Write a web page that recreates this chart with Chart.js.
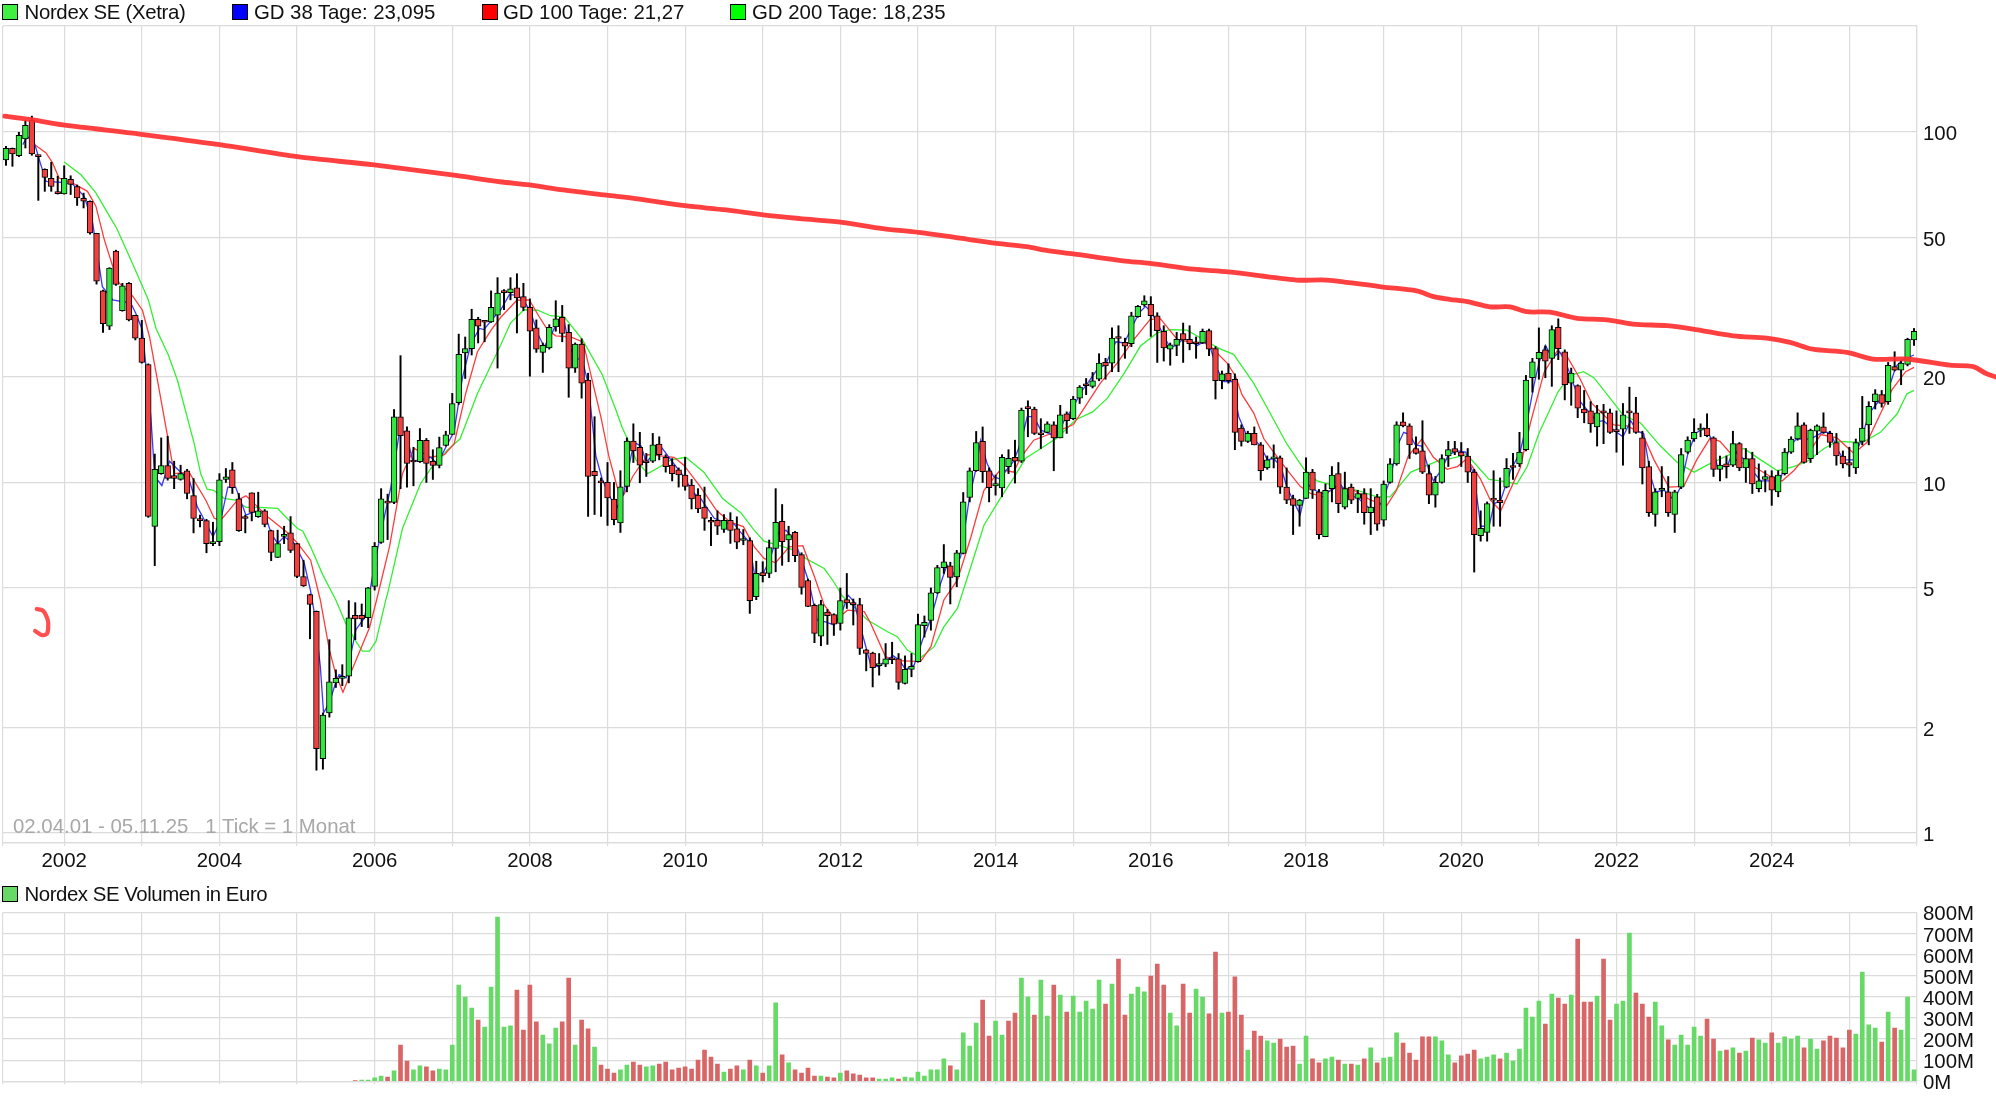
<!DOCTYPE html>
<html><head><meta charset="utf-8">
<script src="https://cdn.jsdelivr.net/npm/chart.js@4"></script>
<style>
html,body{margin:0;padding:0;background:#fff;width:1996px;height:1102px;overflow:hidden}
canvas{position:absolute;left:0}
.t{position:absolute;font:20.4px "Liberation Sans",Arial,sans-serif;color:#111;white-space:pre;line-height:24px}
.s{position:absolute;width:14px;height:14px;border:1px solid #000;box-sizing:content-box}
</style></head><body>
<canvas id="main" width="1996" height="880" style="top:0"></canvas>
<canvas id="draw" width="1996" height="880" style="top:0"></canvas>
<canvas id="vol" width="1996" height="222" style="top:880px"></canvas>
<div class="s" style="left:2px;top:3.5px;background:#40f040"></div><div class="t" style="left:24.5px;top:0;letter-spacing:-.33px">Nordex SE (Xetra)</div>
<div class="s" style="left:232px;top:3.5px;background:#0000ff"></div><div class="t" style="left:254px;top:0;letter-spacing:-.05px">GD 38 Tage: 23,095</div>
<div class="s" style="left:481.5px;top:3.5px;background:#ff0000"></div><div class="t" style="left:503px;top:0;letter-spacing:-.05px">GD 100 Tage: 21,27</div>
<div class="s" style="left:729.5px;top:3.5px;background:#00ff00"></div><div class="t" style="left:752px;top:0">GD 200 Tage: 18,235</div>
<div class="s" style="left:2px;top:885.5px;background:#66d966"></div><div class="t" style="left:24.5px;top:881.5px;letter-spacing:-.45px">Nordex SE Volumen in Euro</div>
<div class="t" style="left:13px;top:814px;color:#a8a8a8">02.04.01 - 05.11.25   1 Tick = 1 Monat</div>
<script>
// Monthly candles, April 2001 = month 0
const open=[83.2,89.8,85.6,95.5,108,85.2,78.2,73.8,66.9,66.6,
73.3,69.9,64.7,63.4,51.4,35.2,27.9,45.7,30.9,37,
30,25.8,21.7,7.49,10.6,11.18,10.47,10.2,10.8,9.18,
7.8,7.79,6.69,6.78,10.2,10.86,8.98,7.99,9.34,7.99,
8.3,7.29,6.11,7.01,7.18,6.69,5.39,4.79,4.29,1.63,
2.2,2.68,2.76,2.8,4.18,4.18,4.11,5.05,6.74,8.77,
8.77,15.4,14.04,11.48,11.46,13.18,11.48,11.18,12.75,13.7,
16.9,23.4,24.1,29.2,28.75,28.7,30,35.1,34.8,35.9,
33.9,31.6,27.6,23.5,24.2,27.8,29.6,26.8,21.2,24.8,
19.6,10.76,10.03,10,8.97,7.66,9.75,13.13,12.6,11.42,
11.5,12.86,11.8,11.2,10.86,10.5,9.83,9.2,8.5,7.8,
7.8,7.34,7.8,7.37,6.83,6.83,4.72,5.53,5.5,6.48,
7.74,6.85,7.2,6.23,5.25,4.46,3.64,4.27,4.2,3.96,
4.63,4.5,4.48,3.33,3.26,3,3.03,3.14,3.14,2.67,
2.93,3.08,3.9,4.04,4.84,5.71,5.78,5.38,6.27,9.06,
10.8,13.1,10.8,9.78,9.65,11.1,11.8,11.5,16.3,16.2,
13.72,13.9,14.6,13.4,15.7,15.2,17.4,18.92,18.8,19.7,
22,21.9,25.85,25.1,24.9,29.7,32.1,32.2,29.9,27,
24,24.6,26.6,25.6,24.92,25,27.1,24.1,19.5,20.5,
19.7,14.3,13.1,13.8,12.8,11,11.68,11.75,9.7,9,
8.6,9,10.7,9.4,7,9.6,10.6,8.5,9.7,9,
9.3,8.2,9.1,7.8,10,11.3,14.9,14.5,12.5,12.3,
10.6,9.2,10,11.9,12.5,12.2,11.9,10.7,7.05,7.2,
9,8.9,9.7,11.07,11.3,12.4,19.9,22.5,23.9,22.6,
27.7,23.6,19.2,18.9,16.2,16,14.4,16,15.8,14.03,
14.2,16,15.8,13.4,11.1,8.1,9.5,9.4,8.1,9.7,
12.2,13.3,14.1,14.3,13.4,10.9,11.3,11.2,12.9,11,
11.7,9.6,10.2,10.4,9.4,10.6,12.2,13.3,14.6,11.7,
14,14.4,13.8,13,11.9,11.4,11,13.1,14.6,17,
17.8,17,21.4,20.9,21.7,25.5];
const high=[91,90,99.8,108,111,85.8,78.5,81.9,74.8,80.1,
75,70.6,66.9,63.6,51.4,35.4,41,46,37,37.2,
30,29,21.8,12.05,13.4,13.55,11.5,11.2,10.9,10.26,
8.07,7.85,7.7,10.6,10.96,11.4,9.3,8.07,9.34,9.38,
8.37,7.31,7.31,7.5,7.99,6.7,6,4.8,4.3,2.2,
3.56,2.92,3.02,4.6,4.54,4.5,5.02,6.74,9.6,9.26,
16.15,23,14.4,12.6,14.25,13.35,12.4,13.47,14,17.95,
26.5,26,31.2,29.6,28.8,35.2,38.4,35.5,38.4,39.4,
37,33.4,29.1,25,28.2,33,32,28.2,25,25.7,
20.5,15.4,10.3,11.4,10,10.8,13.4,14.7,13.9,12.1,
13.8,13.5,12,11.7,11,11.8,10.2,9.6,9.7,7.95,
8.3,8.1,8.2,7.98,7.34,6.95,5.96,5.94,6.85,9.6,
8.65,7.5,7.25,6.3,5.3,4.5,4.61,4.34,4.22,5,
5.5,4.65,4.67,3.34,3.28,3.25,3.47,3.5,3.25,3.2,
3.25,4.21,4.16,5,5.8,6.65,5.92,6.4,9.36,11,
13.98,14.4,11,10.5,12,12.4,13.2,16.3,17.1,16.4,
15.2,14.9,14.9,16.6,15.9,17.6,18.9,19.8,20.6,23.3,
22.6,27.6,28,25.8,30.6,32,34.1,33.9,30.5,28,
25,26.8,28.5,28,26,27.4,27.4,24.4,20.8,21.8,
20.4,14.6,14,14.4,13,11.9,12.8,11.9,11,9.2,
8.95,11.76,10.9,9.55,9.9,11.1,11.4,10.7,9.9,9.5,
9.6,9.6,9.25,10.1,11.7,14.9,15.8,14.7,13.5,15,
11.2,10.4,12,13.1,13.1,13,12.5,10.9,8.3,8.8,
10.8,10.3,11.7,12.1,13.9,20.2,22.6,27.6,24.5,28,
29.3,23.9,21.2,19,18.3,17,16.6,16.7,16.2,16,
16.8,18.7,17.5,14,11.5,9.6,11.1,10.4,9.5,12.5,
13.5,15.2,14.7,15.7,13.5,11.9,11.9,14,13,12.5,
12.2,11.3,10.8,10.8,10.8,12.5,13.5,15.8,14.8,14.2,
14.6,15.8,14,13.8,12.3,12.6,13.3,17.6,17,18.4,
18.3,22,23.6,22.3,25.8,27.5];
const low=[80.3,79.8,85,90,85.8,63.8,67.7,67.7,66.5,66.5,
66.3,61.7,60.7,51.1,36.8,26.8,27.3,36.5,30.8,28.9,
25.5,21.9,7.95,5.79,10.55,10.15,9.6,10.15,8.98,7.18,
7.47,6.3,6.6,6.6,10,9.3,7.25,7.18,7.77,7.95,
7.47,5.98,6.1,6.69,6.31,5.35,5.05,3.58,1.51,1.52,
2.14,2.6,2.63,2.68,3.56,3.88,3.85,4.93,6.7,6.87,
8.7,9.6,9.7,9.78,11.4,10,10.2,11,12.7,13.7,
16.7,19.8,23.1,25,25.2,28.6,21.2,31.1,33.2,26.7,
30.9,20.1,23.5,20.6,24,27,25.2,17.5,20.6,17.4,
8,8.1,8,7.54,7.57,7.2,9.4,11.4,9.98,10.4,
11.4,11.6,10.7,10.1,9.7,9.5,8.4,8.2,7.3,6.6,
7.1,7.2,6.7,6.47,6.64,4.23,4.63,5.2,5.35,5.56,
5.8,5.94,5.94,4.8,4.42,3.49,3.42,3.45,3.66,3.79,
4.37,3.92,3.23,2.9,2.61,2.82,2.98,3.04,2.57,2.66,
2.79,3.07,3.62,3.79,4.82,5.5,4.5,5.04,6.25,8.8,
10.75,10,8.8,9.2,9.1,10.6,9.96,11.4,13.5,13.7,
12.5,13.85,10.8,13.4,13.8,15.1,16.8,17.8,18.6,19.5,
19.7,20.7,20.7,22.6,24.4,29.6,31.8,26.1,22,22.2,
21.6,23,22,23.9,22.6,24.9,23,17.3,18.5,19.2,
12.4,12.7,13,12.8,10.15,10.9,11,9.3,8.7,7.1,
7.5,9,9,6.9,7,8.8,8.2,8.4,8.7,8.2,
7.6,7.1,7.3,7.5,9.95,11.2,14.4,11.7,12.05,10.6,
8.7,8.5,9.95,11.1,12,11.1,10,5.55,6.8,6.8,
7.5,7.5,9.65,10.2,11.1,12.3,18.1,19.7,19.9,18.8,
22.4,17.2,16.6,15.3,14.8,13.9,12.7,12.9,13.8,12.2,
11.2,13.8,13.8,9.9,8,7.5,9.1,8,7.2,9.6,
12.1,13.1,13.5,13.5,10.4,10.1,10.3,11.1,10.8,10,
9.3,9.4,9.4,8.6,9.1,10.5,12.1,13.2,11.35,11.4,
12,13.8,12.6,11.2,11,10.4,10.6,12.8,12.8,16.2,
16.4,16.7,20.8,19,21.5,24.6];
const close=[89.8,86.5,97.8,104.5,86.5,85,74.2,69.9,66.7,73.8,
70.9,64.8,63.5,51.5,37.5,28.4,40.9,36.7,36.4,29.1,
25.8,22,8,10.9,11.18,10.26,10.26,10.6,9.3,7.89,
7.78,6.69,6.78,10.18,10.38,9.67,7.29,7.89,8.21,8.3,
7.59,6.31,6.69,7.11,6.4,5.39,5.07,4.49,1.74,2.17,
2.7,2.76,2.8,4.11,4.08,4.08,5,6.57,8.98,8.73,
15.4,13.6,11.33,11.44,13.18,11.33,11.18,12.58,13.67,16.8,
23.2,24.1,29.2,27.9,28.65,31.6,34.7,34.8,35.7,33.6,
31.6,27,24,24.6,27.7,29.3,26.6,21.2,24.8,19.2,
10.4,10.46,9.97,9.03,7.83,9.71,13.13,12.3,11.2,11.38,
12.8,12,11.1,10.6,10.5,9.74,8.97,8.4,7.9,7.7,
7.5,7.8,7.3,6.76,6.92,4.6,5.5,5.42,6.52,7.69,
6.78,7.1,6.18,5.02,4.43,3.71,4.48,4.17,3.94,4.6,
4.53,4.48,3.36,3.25,2.96,3.04,3.14,3.12,2.69,2.93,
2.99,3.93,3.99,4.84,5.72,5.94,5.36,6.3,8.8,10.8,
13,10.74,9.66,9.93,11.8,11.72,11.5,16.1,16.25,13.8,
13.68,14.7,13.4,15.6,15,17.3,18.7,18.88,19.5,21.9,
21.5,25.8,25.75,24.5,29.9,31.8,33,29.9,27.1,24.2,
24.7,25.6,25.5,24.9,24.88,27,24,19.5,20.4,19.5,
13.9,13.1,13.8,12.8,10.8,11.6,11.72,9.7,8.9,8.6,
8.9,10.7,9.5,7.1,9.5,10.5,8.7,9.6,8.9,9.3,
8.2,8.5,7.6,9.9,11.3,14.6,14.5,12.8,12.1,10.7,
9.2,10,11.7,12.4,12.2,11.9,10.7,7.1,7.4,8.7,
8.9,8.75,10.98,11.03,12.2,19.6,22.1,23.5,22.2,27.3,
24.1,19,20.5,16.3,15.8,14.7,15.8,15.8,13.9,13.97,
15.6,15.8,13.9,11,8.2,9.4,9.6,8.2,9.4,12,
13.2,13.9,14.3,13.6,10.9,11.2,11.1,12.9,11,11.7,
9.9,10.1,10.4,9.5,10.5,12.2,13.3,14.5,11.4,14.1,
14.5,13.9,13,11.9,11.3,11.2,13,14.3,16.5,17.9,
16.8,21.6,20.9,21.9,25.6,27];

// Moving averages: month index and value in euro
const gd38Month=[2.6,3.3,4.4,5.3,6.2,8.5,10.3,12.1,13.4,14.9,16.5,19.3,20.1,21.1,22.4,23,24.1,25.3,27,28.3,29.6,30.7,32,33.2,34.3,35.5,37.1,38.4,40,41,42,43,44.6,46.1,47.1,47.6,48.6,49.1,50,50.8,51.5,52.6,54.1,55.4,56.2,57.2,58.5,59.5,60.8,61.8,62.9,64.1,65.7,66.7,68,69.3,70.6,71.9,73.2,73.9,75.5,76.5,77.8,79,80.1,81.1,82.2,83.2,84.2,85.3,86.3,87.1,88.1,89.1,90,91.2,92.2,93.5,94.5,95.5,96.6,97.1,98.2,99,100,101.2,102.8,104.1,105.1,106.1,107.4,108.5,109.5,111,112.6,113.6,114.9,115.7,116,117.2,118.2,119.3,120.6,121.9,122.9,124.2,125.4,126.7,128,129,130.2,131.1,132.4,133.7,135,136,137.2,138.1,139.1,140.4,141.7,143,144.5,145.5,146.3,147.6,148.9,149.9,150.7,151.7,152.7,153.8,154.6,155.8,156.9,157.9,158.9,160,161.3,162.3,163.6,165.1,166.1,167.4,168.7,170,171.6,172.9,173.9,175.2,176.2,177,178,179,180,181.1,182.1,183.2,184.2,185.2,186.2,187.3,188.3,189.6,190.6,191.7,192.9,194,195,196,197.1,198,199.1,200.1,201.2,202.4,203.5,205,206.3,207.6,208.9,210.2,211.5,212.8,214,215.1,216.1,217,217.9,218.9,219.9,220.7,222,223,224.4,225.7,227,228,229.3,230.1,231.1,232.6,234.1,235.2,236.2,237,238,239.1,240.2,241.2,242.3,243.4,244.7,246,247,248.8,250,251.2,252.2,253.2,254.3,255,256.4,257.9,258.9,260,261.2,262.5,263.5,264.6,266.1,267.1,268.2,269.2,270.2,271.3,272.8,274.3,275.8,276.8,279,280.8,282.1,283.1,284.1,285.7,287,288,289.6,290.9,292.2,293.2,295];
const gd38Value=[92,97,93,81.6,72.3,71.8,71,65.5,55,36.2,33.2,32.5,30.3,27.2,15.4,10.4,9.8,11.5,10.7,10.2,8.5,7.8,7,7.8,9.7,9.7,8.07,8.25,8.15,7.15,6.7,7,6.7,5.9,4.9,4.33,2.99,2.2,2.35,2.62,2.83,2.77,3.8,4.1,4.82,6.13,7.98,9.7,13.8,14,11.5,11.6,11.8,11.3,12.6,14,20,24.9,27.5,27.3,29.7,31.1,34.3,34.3,32.9,30.8,26.6,24.4,26.1,28.9,28.9,24.4,22.6,22.4,19.2,11.9,10.2,9,8.5,9.3,11.8,13,12.7,11.4,12,12.7,11.6,10.8,10.2,9.4,9,8.4,7.9,7.7,7.6,7.2,6.76,5.5,5.4,5.56,6.1,7.15,7.3,6.85,6.1,5.15,4.05,4,3.92,4.14,4.77,4.57,3.7,3.01,2.98,3.11,3.2,3.11,2.93,3.01,3.55,4.09,5.15,5.81,5.38,6.14,8.9,10.8,13.2,11.3,10.4,10.2,10.8,11.5,13,15.4,15.4,14.1,13.8,13.4,15,16.5,18,19.4,21,21.7,25.2,25,27.3,30.5,31.8,30.7,28.5,26.3,24.2,24.7,25.8,25.2,24.6,25.2,24.2,21,19.4,19.4,15.4,13.8,13.3,12.7,11.6,11.7,11.1,9.75,8.8,8.1,9.9,9.5,9.3,9.5,9.9,9.1,9.1,8.6,8.3,8.8,10.2,12.7,13.9,13.7,12.8,12.7,11,10.1,10.9,12,12.3,12.2,10.4,7.5,7.5,8.7,8.9,10.8,12.2,15,18.8,21.9,24.6,22.6,23.6,21.9,19.2,17,15.9,14.9,15,14,13.5,15,14,13.8,10.4,9.4,9.5,8.9,9.7,12,13.8,14.3,13.5,11.1,11.1,12.4,11.8,11.6,10.7,10.1,10.1,10.1,12.7,13.3,13.3,13.9,13.9,12.5,11.6,11.6,13.5,15.7,17.1,18.1,21.4,22.4,23.1];
const gd100Month=[4.5,6.2,7.2,8.2,10.3,12.6,13.9,15.2,16.5,17.5,19.6,21.1,22.2,23.5,25,26,28.3,30.9,32.2,33.2,35.8,37.1,38.4,40.4,43.5,45.1,47.1,48.6,50,51,52.1,53.3,56.2,57.3,59.3,61.3,63.1,65.7,67.8,69.3,71.1,72.9,75,76.5,79,80.9,82.4,83.7,85,87.3,89.1,89.4,92,93.2,94.5,95.5,96.9,99.2,101.2,103.3,104.8,107.4,109.9,112,114,115.7,117.2,119,121.1,123.2,125,126.5,128.3,130.1,132.7,133.7,136,138.1,141.4,143,145,147.1,149.2,151.2,153.8,155.8,156.9,158.9,162.5,165,166.9,169.2,171.8,174.4,176.9,178.5,179.5,181.1,183.7,185.7,188.8,190.1,191.1,192.9,194.5,196,198,200.1,201.7,203.8,205.3,208.4,211,213.5,215,216.8,218.9,220.7,222.8,224.4,225.9,228,229.5,231.1,234.1,235.7,237.8,239.8,241.4,243.4,245.2,248.6,250.6,253,254.8,257.1,259.4,261.4,263.5,265,267.7,270.2,272.8,274.6,276.4,278.5,280.6,283.1,285.7,287.7,289.8,291.6,293.7,295];
const gd100Value=[91.8,87.1,81.6,73.9,71.5,67.7,61.4,49.3,41.4,37.1,34,31,26,19.2,13.5,10.6,10.7,8.9,7.9,7.8,8.9,9.16,8.7,8,7.2,6.7,6,4.62,3.33,2.83,2.52,2.86,3.85,4.62,6.56,10.6,12.5,11.8,12,12.9,18,23.6,27.2,29.6,33.1,33.2,29.8,27.3,26.2,26,25.2,24.4,15.3,11.9,9.7,9.2,10.4,12,11.9,11.8,11.2,9.7,8.3,7.7,7.48,6.55,6.07,5.9,6.55,6.6,5.38,4.47,4.05,4.32,4.28,3.96,3.18,3.1,3.08,3.4,4.62,5.26,7,9.5,10.9,10.7,11.8,13.2,14,14.6,16.5,19.2,21.9,25.6,29.2,29.3,27.8,25.6,25,25,21.9,20.1,17.8,15.8,13.3,12.2,10.9,9.75,9.3,9.1,9.75,9.5,8.9,8.6,9.5,11.9,13.3,11.8,10.9,11.1,11.7,10.2,8.9,8.3,11,14.8,20.6,23.7,22.8,19.7,16.8,14.6,14.5,13.8,11.6,9.7,9.75,11.6,13.4,13.1,11.5,11.1,10.4,10.1,10.8,12,13.7,13.4,12.1,13,15.7,18.4,20.7,21.3];
const gd200Month=[9,11.6,13.9,16,17.1,19.3,21.1,22,23.2,25.1,26.5,29.1,30.1,31.1,32.1,33.7,35.5,37.1,39.2,42,43.5,45.1,45.9,47.1,49,51,52.5,54.1,55.1,56.2,57.2,58.7,59,61.3,64.1,65.7,68.3,70.2,72.9,76.5,78,80.1,82.2,84.2,86.3,89.1,92.2,94.3,95.3,96.1,97.4,99.2,101.2,102.8,105.1,107.9,110.8,113.6,115.7,117.2,119.3,121.9,123.9,126.5,128,129.3,131.1,133.2,136.3,137.8,139.4,141.4,143.5,145,147.1,148.6,151.2,153.8,155.8,157.6,160,162.5,165.4,168,170.3,172.9,175.4,178,180,182.6,185.7,187.8,189.8,192.9,196,198,200.7,202.7,205.8,208.9,212,214,217.2,221.3,223.3,225.9,229.3,231.1,233.6,235.2,237,240,241.9,243.9,245.5,248,250.1,252.7,255.8,258.4,261,263,266,268.7,271.3,273.9,276.4,278.5,281.1,283.1,287,289.8,292.4,293.9,295];
const gd200Value=[82.1,75.5,67,57.5,53.2,43.2,36.3,33.2,27.5,23.1,19.6,12.9,10.6,9.57,9.5,9,8.9,8.49,8.49,8.43,7.89,7.39,7.26,6.55,5.44,4.62,3.97,3.52,3.3,3.3,3.52,4.6,4.82,7.39,9.93,10.96,12.4,13.3,17.95,24.7,28.5,31.1,31,29.9,29.7,25.6,20.3,16.1,14.3,13.3,11.6,10.6,11.1,11.6,11.8,10.7,9,8.2,7.3,6.8,6.63,6.41,6.03,5.68,5.2,4.74,4.42,4.05,3.75,3.63,3.32,3.16,3.4,3.87,4.37,5.32,7.55,9.05,10.3,11.7,12.5,13.4,15.1,15.9,17.4,20.5,24.5,26.7,27.3,27.2,25.2,24,23.2,19.2,15.1,12.9,10.9,10.1,9.75,9.5,9.1,9.1,10.7,11.5,11.7,12,10.2,10.1,9.9,11.1,13.8,18.2,20.2,20.7,19.9,17.4,15.5,14.8,12.7,11.4,10.7,11.2,11.9,12.5,11.6,10.8,11.1,11.5,12.5,13.1,13,13.9,15.7,17.9,18.3];

// Hand-drawn trend line and hook on the chart
const trendMonth=[0,4.33,9,21.07,33.2,45.2,57.1,69.1,76.5,81.1,86.3,93,98.1,105.1,111.5,117.2,122.9,129.1,135.7,141.2,146.6,153.3,157.9,161,165.1,172.8,177,183.7,189.1,199.6,204.3,213,218.2,220.8,223.3,226,229.5,232.6,235.2,238.8,243,247.6,251.6,256.9,260.9,267.1,272.3,275.9,279.4,284.7,288.7,294,300.6,304.2,306.3,307.7];
const trendValue=[110.9,108.2,104.7,98.5,92,85,80.5,75.4,72.1,70.6,68.3,66,64.3,61.6,59.9,58,56.6,55.3,53,51.7,50.1,48.1,47.1,45.9,44.9,42.9,42.2,40.6,39.9,37.8,37.8,36.1,35.2,33.9,33.3,32.8,31.7,31.7,30.7,30.6,29.4,29.1,28.3,28,27.4,26.2,25.8,25.1,24,23.5,22.5,22.5,21.6,21.4,20.4,20];
const hookMonth=[4.95,5.95,6.65,6.72,6.5,5.7,4.7];
const hookValue=[4.355,4.3,4.05,3.85,3.7,3.67,3.77];

// Volume in million euro, first bar at month 54; 1 = green, 0 = red
const volumeFirstMonth=54;
const volume=[2,6,6,16,25,20,49,172,96,54,73,68,49,58,54,172,456,399,347,290,257,446,777,257,262,432,243,456,281,219,177,252,281,489,172,290,248,162,77,58,39,54,77,91,77,68,73,82,91,54,63,68,58,101,
148,115,82,44,58,73,54,101,73,39,73,371,125,87,54,39,63,25,25,20,16,39,49,35,30,16,16,11,11,16,11,20,16,44,25,54,54,106,73,54,229,167,276,385,214,285,219,285,323,489,399,314,479,309,456,408,328,404,328,380,342,479,366,460,579,314,413,446,423,498,555,456,323,262,460,323,437,399,319,612,323,328,494,314,148,238,214,191,181,200,162,167,82,214,106,87,106,115,101,82,82,77,106,158,87,110,115,229,
181,134,101,210,210,210,191,125,87,120,129,148,106,115,125,106,134,96,153,347,304,380,271,413,394,366,408,673,375,375,404,579,290,366,380,702,418,366,304,375,262,196,172,219,172,257,214,295,200,143,148,158,134,143,205,196,181,229,181,210,200,214,158,200,153,191,214,205,158,243,224,517,267,252,186,328,252,243,399,54];
const volumeUp=[0,1,1,1,1,0,1,0,0,1,1,0,0,1,1,1,1,1,1,0,1,1,1,1,1,0,0,0,0,1,1,1,0,0,1,0,0,1,0,0,0,1,1,0,0,1,1,0,0,0,0,0,0,0,
0,0,0,1,0,0,1,0,1,0,1,1,0,1,0,0,0,0,1,0,0,1,0,0,0,0,0,1,1,1,0,1,1,1,1,1,1,1,0,1,1,1,1,0,0,1,1,0,0,1,1,0,1,1,0,1,0,1,1,1,1,1,0,1,0,0,1,1,1,0,0,0,1,1,0,0,1,1,0,0,1,0,0,0,1,0,0,1,1,0,0,0,1,1,0,0,1,1,0,1,0,1,0,1,0,1,1,1,
0,0,0,0,0,1,1,1,0,0,0,0,1,1,1,0,1,1,1,1,1,1,0,1,0,0,1,0,0,0,1,0,0,1,1,1,0,0,0,1,1,0,1,1,1,1,1,0,0,1,0,1,0,1,0,1,1,0,1,1,1,1,0,1,1,0,0,0,0,0,1,1,1,1,0,1,0,1,1,1];

// Axis labels
const priceTicks=[1,2,5,10,20,50,100];
const yearLabels=['2002','2004','2006','2008','2010','2012','2014','2016','2018','2020','2022','2024'];
const volumeTicks=[0,100,200,300,400,500,600,700,800];

const UP='#33e640',DOWN='#f04040',GRID='#dcdcdc',FONT={family:'"Liberation Sans"',size:20.4};
const XMIN=-0.46,XMAX=295.46,YMIN=0.936,YMAX=200.6;
const months=open.map((_,i)=>i);
const janMonths=[];for(let m=9;m<=295;m+=12)janMonths.push(m);
const yearOfMonth=m=>String(2001+Math.floor((m+3)/12));
const pairs=(a,b)=>a.map((x,i)=>({x,y:b[i]}));
const thin=(m,v,c)=>({type:'line',data:pairs(m,v),borderColor:c,borderWidth:1.3,pointRadius:0,tension:0,order:4});
const xOpts=labels=>({type:'linear',min:XMIN,max:XMAX,offset:false,
  afterBuildTicks(s){s.ticks=[XMIN,...janMonths,XMAX].map(value=>({value}));},
  afterFit(s){s.height=labels?37:20.7;},
  grid:{offset:false,color:GRID,lineWidth:1.2,tickLength:3,tickColor:GRID},border:{color:GRID,width:1.2},
  ticks:{autoSkip:false,maxRotation:0,minRotation:0,padding:3,color:'#111',font:FONT,
    callback:v=>{if(!labels||!janMonths.includes(v))return '';const y=yearOfMonth(v);return yearLabels.includes(y)?y:'';}}});

new Chart(document.getElementById('main'),{type:'bar',
  data:{datasets:[
    thin(gd38Month,gd38Value,'#3838ff'),
    thin(gd100Month,gd100Value,'#ff3c3c'),
    thin(gd200Month,gd200Value,'#33f033'),
    {data:months.map(i=>({x:i,y:[low[i],high[i]]})),backgroundColor:'#000',barThickness:1.3,order:3},
    {data:months.map(i=>({x:i,y:[open[i],close[i]]})),
     backgroundColor:months.map(i=>close[i]>=open[i]?UP:DOWN),borderColor:'#000',borderWidth:1,borderSkipped:false,barThickness:5.8,minBarLength:2,order:2}
  ]},
  options:{responsive:false,animation:false,devicePixelRatio:1,layout:{padding:{left:1.77,top:26,right:0,bottom:0}},
    datasets:{bar:{grouped:false}},
    plugins:{legend:{display:false},tooltip:{enabled:false}},
    scales:{x:xOpts(true),
      y:{type:'logarithmic',position:'right',min:YMIN,max:YMAX,bounds:'data',
        afterBuildTicks(s){s.ticks=[YMIN,...priceTicks,YMAX].map(value=>({value}));},
        afterFit(s){s.width=79;},
        grid:{color:GRID,lineWidth:1.2,drawTicks:false},border:{color:GRID,width:1.2},
        ticks:{autoSkip:false,padding:6,labelOffset:2.5,color:'#111',font:FONT,
          callback:v=>priceTicks.includes(v)?String(v):''}}}}});

new Chart(document.getElementById('draw'),{type:'line',
  data:{datasets:[
    {data:pairs(trendMonth,trendValue),borderColor:'rgba(255,48,48,0.92)',borderWidth:4.8,pointRadius:0,tension:0.3,borderJoinStyle:'round',borderCapStyle:'round'},
    {data:pairs(hookMonth,hookValue),borderColor:'rgba(255,60,60,0.9)',borderWidth:4.2,pointRadius:0,tension:0.3,borderCapStyle:'round'}
  ]},
  options:{responsive:false,animation:false,devicePixelRatio:1,layout:{padding:{left:1.77,top:26,right:0,bottom:37}},
    plugins:{legend:{display:false},tooltip:{enabled:false}},
    scales:{x:{type:'linear',display:false,min:XMIN,max:307.73},
      y:{type:'logarithmic',display:false,min:YMIN,max:YMAX,bounds:'data'}}}});

new Chart(document.getElementById('vol'),{type:'bar',
  data:{datasets:[{data:volume.map((v,k)=>({x:k+volumeFirstMonth,y:v})),
    backgroundColor:volumeUp.map(u=>u?'#66d966':'#d96666'),barThickness:4}]},
  options:{responsive:false,animation:false,devicePixelRatio:1,layout:{padding:{left:1.77,top:32.3,right:0,bottom:0}},
    plugins:{legend:{display:false},tooltip:{enabled:false}},
    scales:{x:xOpts(false),
      y:{type:'linear',position:'right',min:0,max:800,
        afterBuildTicks(s){s.ticks=volumeTicks.map(value=>({value}));},
        afterFit(s){s.width=79;},
        grid:{color:GRID,lineWidth:1.2,drawTicks:false},border:{color:GRID,width:1.2},
        ticks:{autoSkip:false,padding:6,labelOffset:2.5,color:'#111',font:FONT,
          callback:v=>v+'M'}}}}});
</script></body></html>
